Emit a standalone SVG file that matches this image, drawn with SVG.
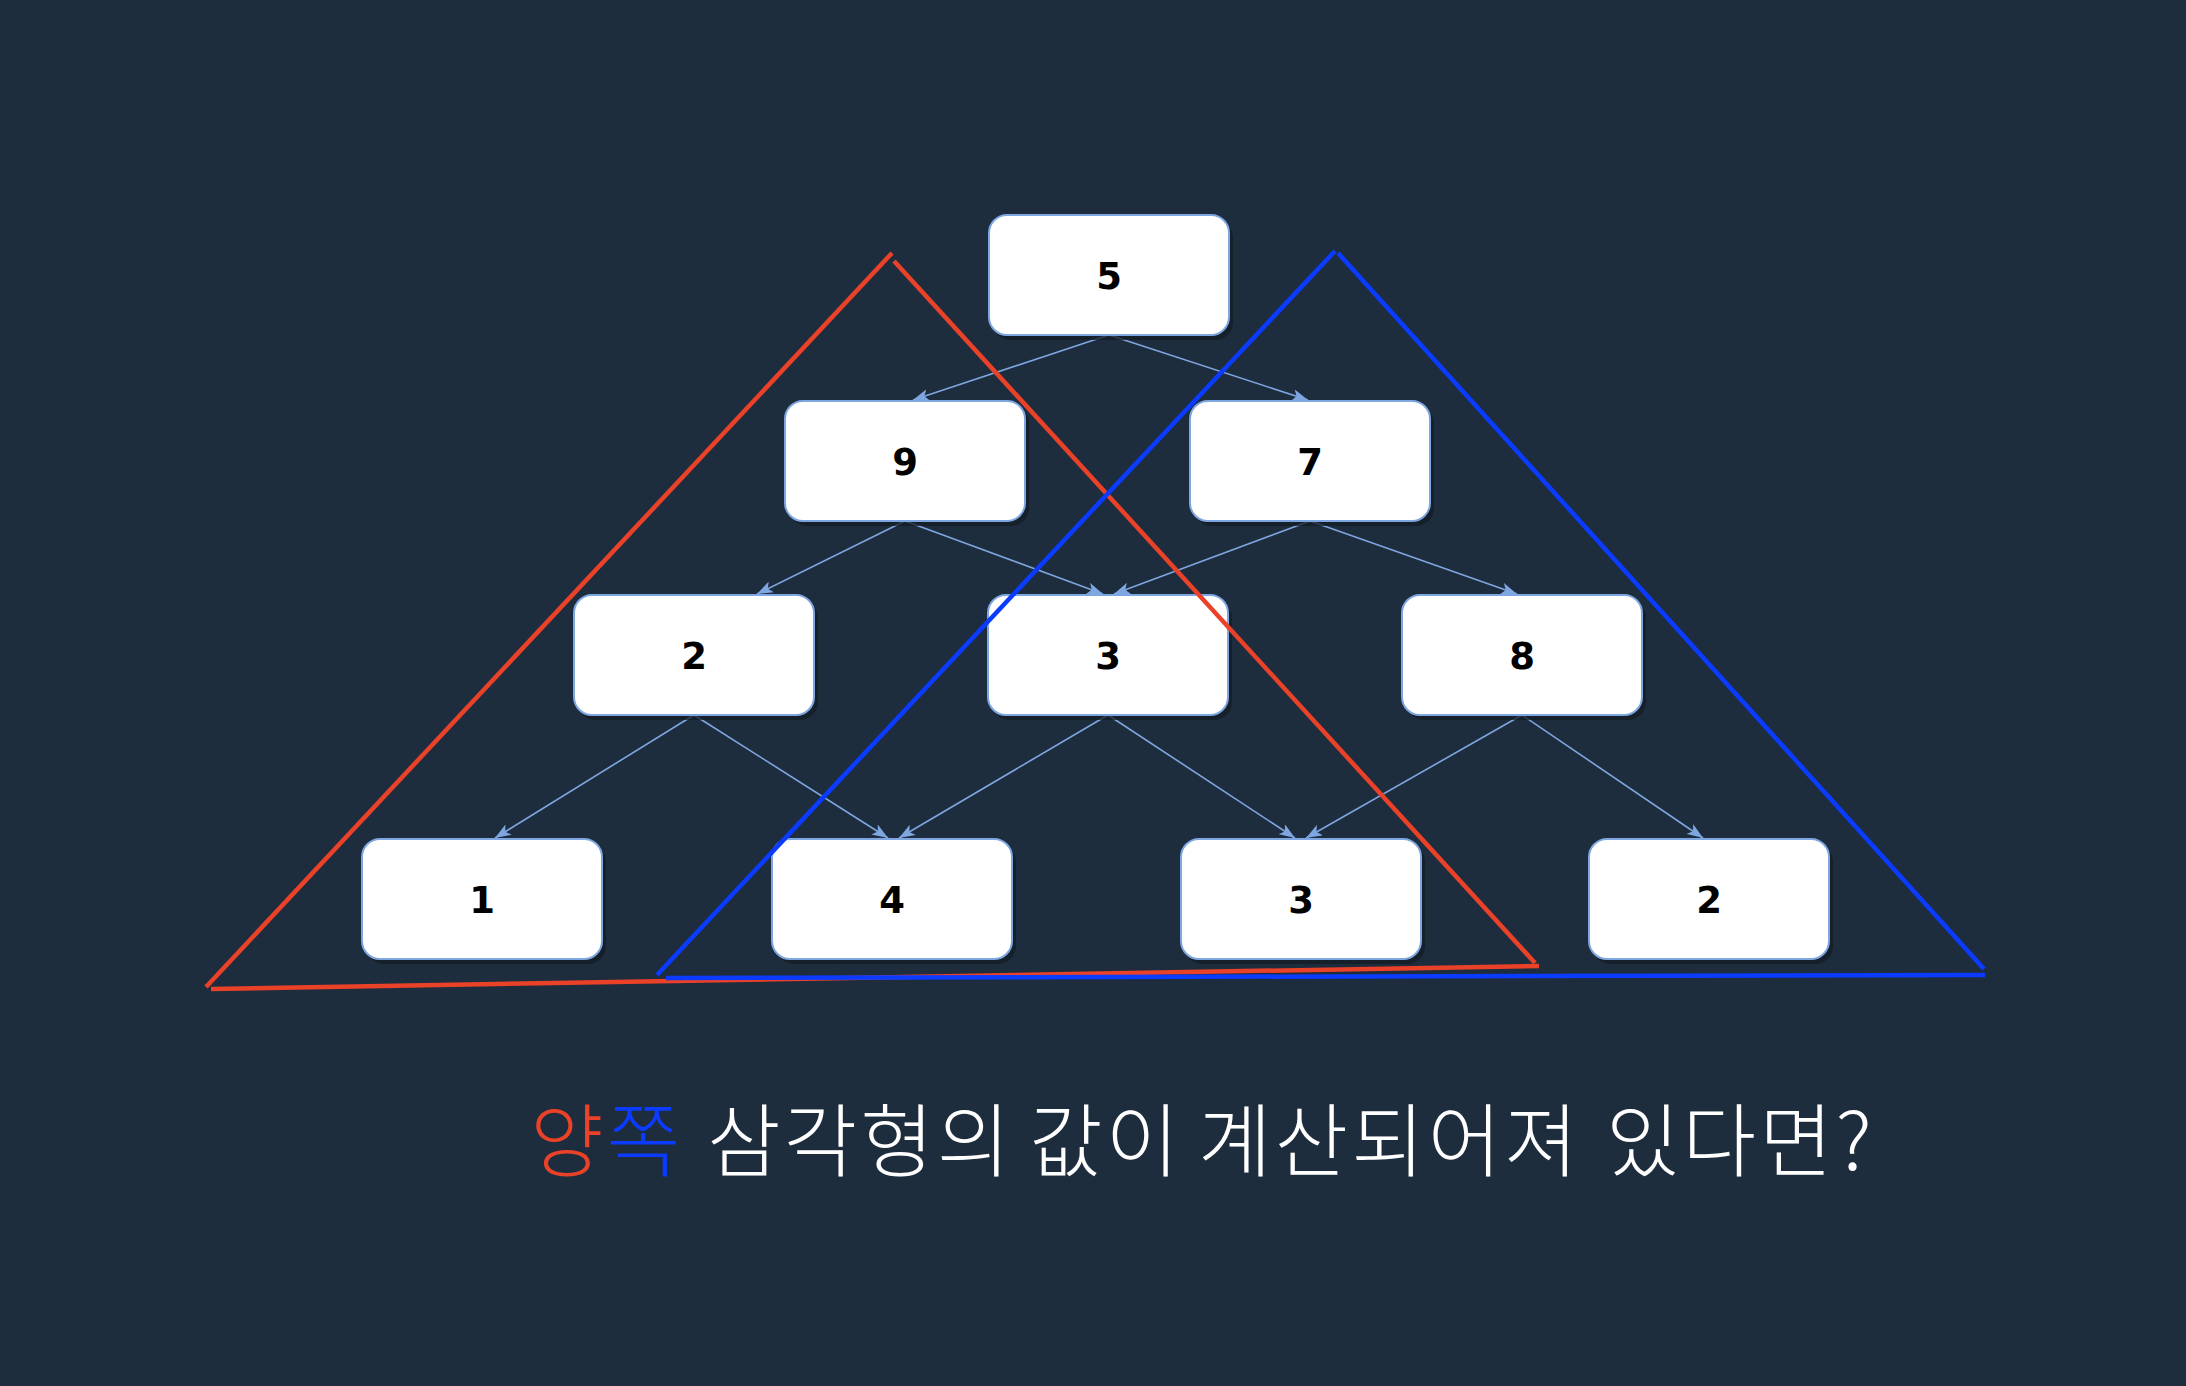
<svg xmlns="http://www.w3.org/2000/svg" width="2186" height="1386" viewBox="0 0 2186 1386">
  <style>
    .shadow { fill: #141c26; opacity: 0.75; }
    .box { fill: #ffffff; stroke: #7ea6e0; stroke-width: 2; }
    .num { font-family: "DejaVu Sans", Verdana, sans-serif; font-weight: bold; font-size: 37px; fill: #000000; text-anchor: middle; }
    .edge { fill: none; stroke: #7ea6e0; stroke-width: 1.6; marker-end: url(#arrow); }
    .red { fill: none; stroke: #ea4129; stroke-width: 4.5; stroke-linecap: butt; }
    .blue { fill: none; stroke: #0a3bff; stroke-width: 4.5; stroke-linecap: butt; }
    .caption { font-family: "Noto Sans CJK KR", "Noto Sans", sans-serif; font-weight: 300; font-size: 80px; letter-spacing: 3px; fill: #ffffff; }
  </style>
  <defs>
    <marker id="arrow" markerUnits="userSpaceOnUse" viewBox="0 0 16 12" refX="16" refY="6" markerWidth="16" markerHeight="12" orient="auto">
      <path d="M0,0 L16,6 L0,12 L4,6 Z" fill="#7ea6e0"/>
    </marker>
  </defs>

  <rect x="0" y="0" width="2186" height="1386" fill="#1e2d3d"/>

  <g id="connectors">
    <line class="edge" x1="1109" y1="335" x2="913" y2="400"/>
    <line class="edge" x1="1109" y1="335" x2="1308" y2="400"/>
    <line class="edge" x1="905" y1="521" x2="757" y2="594"/>
    <line class="edge" x1="905" y1="521" x2="1103" y2="594"/>
    <line class="edge" x1="1310" y1="521" x2="1114" y2="594"/>
    <line class="edge" x1="1310" y1="521" x2="1517" y2="594"/>
    <line class="edge" x1="694" y1="715" x2="495" y2="838"/>
    <line class="edge" x1="694" y1="715" x2="888" y2="838"/>
    <line class="edge" x1="1108" y1="715" x2="899" y2="838"/>
    <line class="edge" x1="1108" y1="715" x2="1295" y2="838"/>
    <line class="edge" x1="1522" y1="715" x2="1306" y2="838"/>
    <line class="edge" x1="1522" y1="715" x2="1703" y2="838"/>
  </g>

  <g id="node-5">
    <rect class="shadow" x="993" y="220" width="240" height="120" rx="18"/>
    <rect class="box" x="989" y="215" width="240" height="120" rx="18"/>
    <text class="num" x="1109" y="289">5</text>
  </g>
  <g id="node-9">
    <rect class="shadow" x="789" y="406" width="240" height="120" rx="18"/>
    <rect class="box" x="785" y="401" width="240" height="120" rx="18"/>
    <text class="num" x="905" y="475">9</text>
  </g>
  <g id="node-7">
    <rect class="shadow" x="1194" y="406" width="240" height="120" rx="18"/>
    <rect class="box" x="1190" y="401" width="240" height="120" rx="18"/>
    <text class="num" x="1310" y="475">7</text>
  </g>
  <g id="node-2a">
    <rect class="shadow" x="578" y="600" width="240" height="120" rx="18"/>
    <rect class="box" x="574" y="595" width="240" height="120" rx="18"/>
    <text class="num" x="694" y="669">2</text>
  </g>
  <g id="node-3a">
    <rect class="shadow" x="992" y="600" width="240" height="120" rx="18"/>
    <rect class="box" x="988" y="595" width="240" height="120" rx="18"/>
    <text class="num" x="1108" y="669">3</text>
  </g>
  <g id="node-8">
    <rect class="shadow" x="1406" y="600" width="240" height="120" rx="18"/>
    <rect class="box" x="1402" y="595" width="240" height="120" rx="18"/>
    <text class="num" x="1522" y="669">8</text>
  </g>
  <g id="node-1">
    <rect class="shadow" x="366" y="844" width="240" height="120" rx="18"/>
    <rect class="box" x="362" y="839" width="240" height="120" rx="18"/>
    <text class="num" x="482" y="913">1</text>
  </g>
  <g id="node-4">
    <rect class="shadow" x="776" y="844" width="240" height="120" rx="18"/>
    <rect class="box" x="772" y="839" width="240" height="120" rx="18"/>
    <text class="num" x="892" y="913">4</text>
  </g>
  <g id="node-3b">
    <rect class="shadow" x="1185" y="844" width="240" height="120" rx="18"/>
    <rect class="box" x="1181" y="839" width="240" height="120" rx="18"/>
    <text class="num" x="1301" y="913">3</text>
  </g>
  <g id="node-2b">
    <rect class="shadow" x="1593" y="844" width="240" height="120" rx="18"/>
    <rect class="box" x="1589" y="839" width="240" height="120" rx="18"/>
    <text class="num" x="1709" y="913">2</text>
  </g>

  <g id="triangle-red">
    <line class="red" x1="206" y1="987" x2="892" y2="253"/>
    <line class="red" x1="894" y1="261" x2="1535" y2="963"/>
    <line class="red" x1="211" y1="989" x2="1539" y2="966"/>
  </g>
  <g id="triangle-blue">
    <line class="blue" x1="657" y1="975" x2="1335" y2="251"/>
    <line class="blue" x1="1338" y1="253" x2="1984" y2="969"/>
    <line class="blue" x1="666" y1="978" x2="1985" y2="975"/>
  </g>

  <g id="caption">
    <text class="caption" y="1170"><tspan x="530" fill="#ea4129">양</tspan><tspan fill="#0a3bff">쪽</tspan><tspan x="707">삼각형의</tspan><tspan x="1029">값이</tspan><tspan x="1198">계산되어져</tspan><tspan x="1606">있다면?</tspan></text>
  </g>
</svg>
